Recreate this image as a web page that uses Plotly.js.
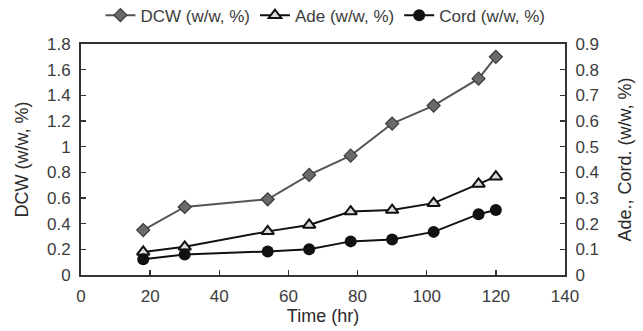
<!DOCTYPE html>
<html>
<head>
<meta charset="utf-8">
<script src="https://cdn.plot.ly/plotly-3.0.1.min.js"></script>
<style>html,body{margin:0;padding:0;background:#fff;}#chart{width:643px;height:331px;}</style>
</head>
<body>
<div id="chart"></div>
<script>
const timeHr = [18, 30, 54, 66, 78, 90, 102, 115, 120];
const dcw = [0.35, 0.53, 0.59, 0.78, 0.93, 1.18, 1.32, 1.53, 1.70];
const ade = [0.09, 0.11, 0.17, 0.195, 0.247, 0.253, 0.28, 0.355, 0.383];
const cord = [0.061, 0.08, 0.092, 0.10, 0.131, 0.138, 0.168, 0.237, 0.253];
const seriesNames = ["DCW (w/w, %)", "Ade (w/w, %)", "Cord (w/w, %)"];

const traces = [
  {x: timeHr, y: dcw, name: seriesNames[0], type: "scatter", mode: "lines+markers",
   line: {color: "#555555", width: 2},
   marker: {symbol: "diamond", size: 10, color: "#6a6a6a", line: {color: "#3a3a3a", width: 1.2}}},
  {x: timeHr, y: ade, name: seriesNames[1], type: "scatter", mode: "lines+markers", yaxis: "y2",
   line: {color: "#111111", width: 2},
   marker: {symbol: "triangle-up", size: 11, color: "#dcdcdc", line: {color: "#111111", width: 2}}},
  {x: timeHr, y: cord, name: seriesNames[2], type: "scatter", mode: "lines+markers", yaxis: "y2",
   line: {color: "#111111", width: 2},
   marker: {symbol: "circle", size: 12, color: "#111111", line: {color: "#111111", width: 0}}}
];

const fam = "Liberation Sans, Arial, sans-serif";
const tickFont = {family: fam, size: 17, color: "#3c3c3c"};
const titleFont = {family: fam, size: 18, color: "#2a2a2a"};
const layout = {
  width: 643, height: 331,
  margin: {l: 81, r: 78, t: 44, b: 56, pad: 0, autoexpand: false},
  paper_bgcolor: "#fff", plot_bgcolor: "rgba(0,0,0,0)",
  font: tickFont,
  showlegend: true,
  legend: {orientation: "h", x: 0.505, xanchor: "center", y: 1.045, yanchor: "bottom",
           font: {family: fam, size: 17, color: "#3c3c3c"},
           bgcolor: "rgba(0,0,0,0)", tracegroupgap: 0, itemwidth: 30},
  xaxis: {range: [0, 140], dtick: 20, tick0: 0, ticks: "inside", ticklen: 5, tickcolor: "#333", tickwidth: 1.5,
          showline: true, linecolor: "#333", linewidth: 2, mirror: true, showgrid: false, zeroline: false,
          ticklabelstandoff: 5, automargin: false,
          tickfont: tickFont, title: {text: "Time (hr)", font: titleFont, standoff: 4}},
  yaxis: {range: [0, 1.8], dtick: 0.2, tick0: 0, ticks: "inside", ticklen: 5, tickcolor: "#333", tickwidth: 1.5,
          showline: true, linecolor: "#333", linewidth: 2, mirror: true, showgrid: false, zeroline: false,
          ticklabelstandoff: 5, automargin: false,
          tickfont: tickFont, title: {text: "DCW (w/w, %)", font: titleFont, standoff: 14}},
  yaxis2: {range: [0, 0.9], dtick: 0.1, tick0: 0, overlaying: "y", side: "right", ticks: "inside", ticklen: 5,
           tickcolor: "#333", tickwidth: 1.5, showline: true, linecolor: "#333", linewidth: 2, showgrid: false, zeroline: false,
           ticklabelstandoff: 5, automargin: false,
           tickfont: tickFont, title: {text: "Ade., Cord. (w/w, %)", font: titleFont, standoff: 20}}
};
Plotly.newPlot("chart", traces, layout, {staticPlot: true, displayModeBar: false});
</script>
</body>
</html>
